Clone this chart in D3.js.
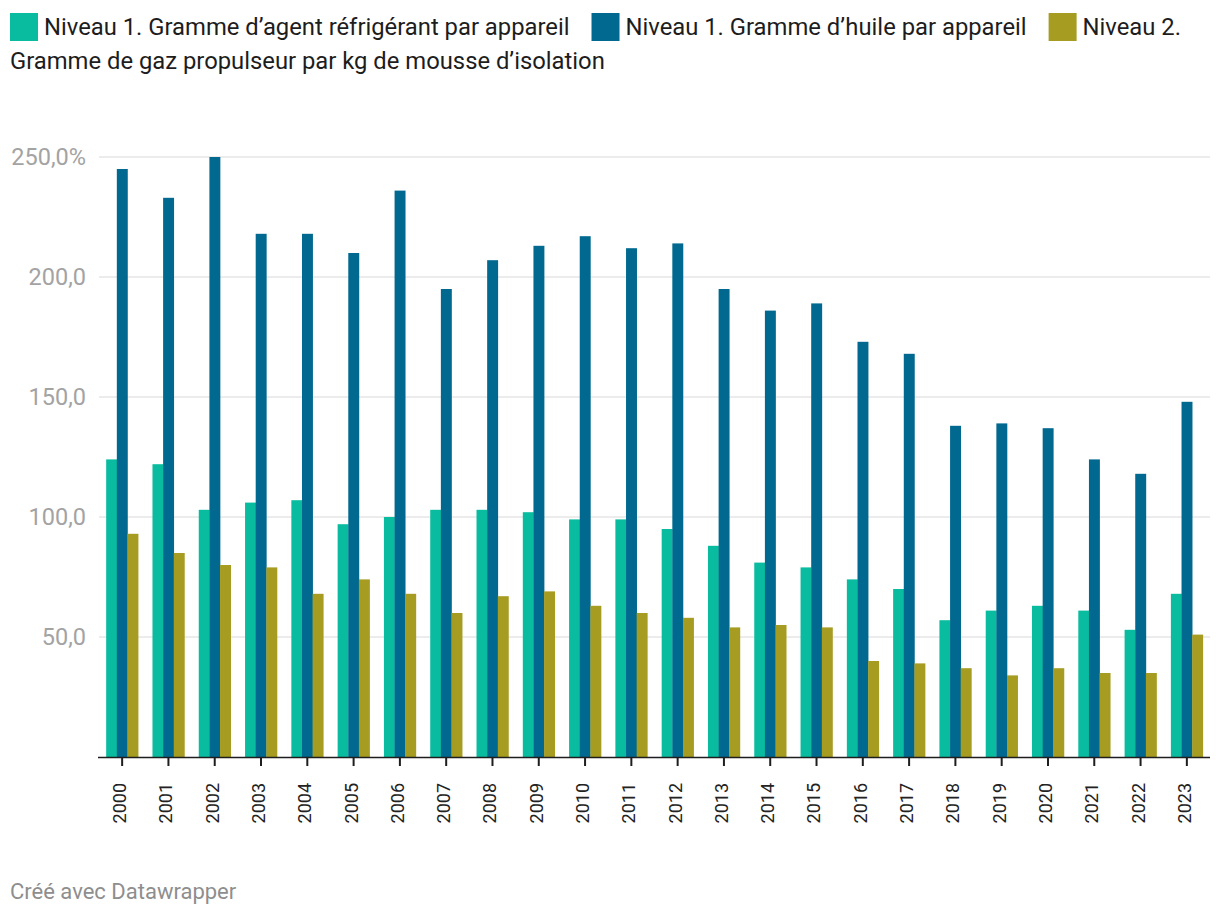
<!DOCTYPE html>
<html>
<head>
<meta charset="utf-8">
<script src="https://cdn.jsdelivr.net/npm/d3@7"></script>
<style>
  html, body { margin: 0; padding: 0; background: #fff; }
  svg { display: block; font-family: Roboto, "Noto Sans", sans-serif; }
</style>
</head>
<body>
<svg id="chart" width="1220" height="918"></svg>
<script>
const years = ["2000","2001","2002","2003","2004","2005","2006","2007","2008","2009","2010","2011","2012","2013","2014","2015","2016","2017","2018","2019","2020","2021","2022","2023"];
const seriesNames = [
  "Niveau 1. Gramme d\u2019agent réfrigérant par appareil",
  "Niveau 1. Gramme d\u2019huile par appareil",
  "Niveau 2. Gramme de gaz propulseur par kg de mousse d\u2019isolation"
];
const refrigerant = [124,122,103,106,107,97,100,103,103,102,99,99,95,88,81,79,74,70,57,61,63,61,53,68];
const huile = [245,233,250,218,218,210,236,195,207,213,217,212,214,195,186,189,173,168,138,139,137,124,118,148];
const propulseur = [93,85,80,79,68,74,68,60,67,69,63,60,58,54,55,54,40,39,37,34,37,35,35,51];
const yTicks = [50,100,150,200,250];
const colors = ["#0abc9f", "#01698f", "#a69c21"];

const series = [refrigerant, huile, propulseur];
const svg = d3.select("#chart");

const x0 = d3.scaleBand().domain(years).range([99, 1210]).paddingInner(0.31).paddingOuter(0.155);
const x1 = d3.scaleBand().domain([0,1,2]).range([0, x0.bandwidth()]).padding(0);
const y = d3.scaleLinear().domain([0, 250]).range([757, 157]);

// gridlines
svg.append("g").selectAll("line").data(yTicks).join("line")
  .attr("x1", 99).attr("x2", 1210)
  .attr("y1", d => y(d)).attr("y2", d => y(d))
  .attr("stroke", "#e6e6e6").attr("stroke-width", 1.4);

// y labels
svg.append("g").selectAll("text").data(yTicks).join("text")
  .attr("x", 86).attr("y", d => y(d)).attr("dy", "0.36em")
  .attr("text-anchor", "end")
  .attr("font-size", 23.5).attr("fill", "#a3a3a3")
  .text(d => d3.format(".1f")(d).replace(".", ",") + (d === 250 ? "%" : ""));

// bars
const groups = svg.append("g").selectAll("g").data(years).join("g")
  .attr("transform", d => `translate(${x0(d)},0)`);
groups.selectAll("rect").data((d, i) => series.map((s, k) => ({k, v: s[i]}))).join("rect")
  .attr("x", d => x1(d.k))
  .attr("width", x1.bandwidth() + 0.3)
  .attr("y", d => y(d.v))
  .attr("height", d => y(0) - y(d.v))
  .attr("fill", d => colors[d.k]);

// x axis
const xAxis = d3.axisBottom(x0).tickSize(9).tickSizeOuter(0);
const gx = svg.append("g").attr("transform", `translate(0,${y(0)})`).call(xAxis);
gx.select(".domain").attr("stroke", "#1e1e1e").attr("stroke-width", 1.6).attr("d", "M98,0.5H1210");
gx.selectAll(".tick line").attr("stroke", "#1e1e1e").attr("stroke-width", 2);
gx.selectAll(".tick text")
  .attr("font-family", "Roboto, sans-serif")
  .attr("font-size", 18).attr("fill", "#222")
  .attr("transform", "rotate(-90)")
  .attr("text-anchor", "end")
  .attr("x", -26).attr("y", 0).attr("dy", "0.22em");

// legend
const legend = svg.append("g");
let lx = 10;
const line1 = 35, line2 = 69;
seriesNames.forEach((name, i) => {
  legend.append("rect").attr("x", lx).attr("y", 13).attr("width", 28).attr("height", 28).attr("fill", colors[i]);
  lx += 34;
  let first = name, rest = null;
  if (i === 2) { first = "Niveau 2."; rest = name.slice(10); }
  const t = legend.append("text").attr("x", lx).attr("y", line1)
    .attr("font-size", 23.8).attr("fill", "#1d1d1d").text(first);
  lx += t.node().getComputedTextLength() + 22;
  if (rest) {
    legend.append("text").attr("x", 10).attr("y", line2)
      .attr("font-size", 23.8).attr("fill", "#1d1d1d").text(rest);
  }
});

// footer
svg.append("text").attr("x", 10).attr("y", 899)
  .attr("font-size", 22).attr("fill", "#8e8e8e").text("Créé avec Datawrapper");
</script>
</body>
</html>
